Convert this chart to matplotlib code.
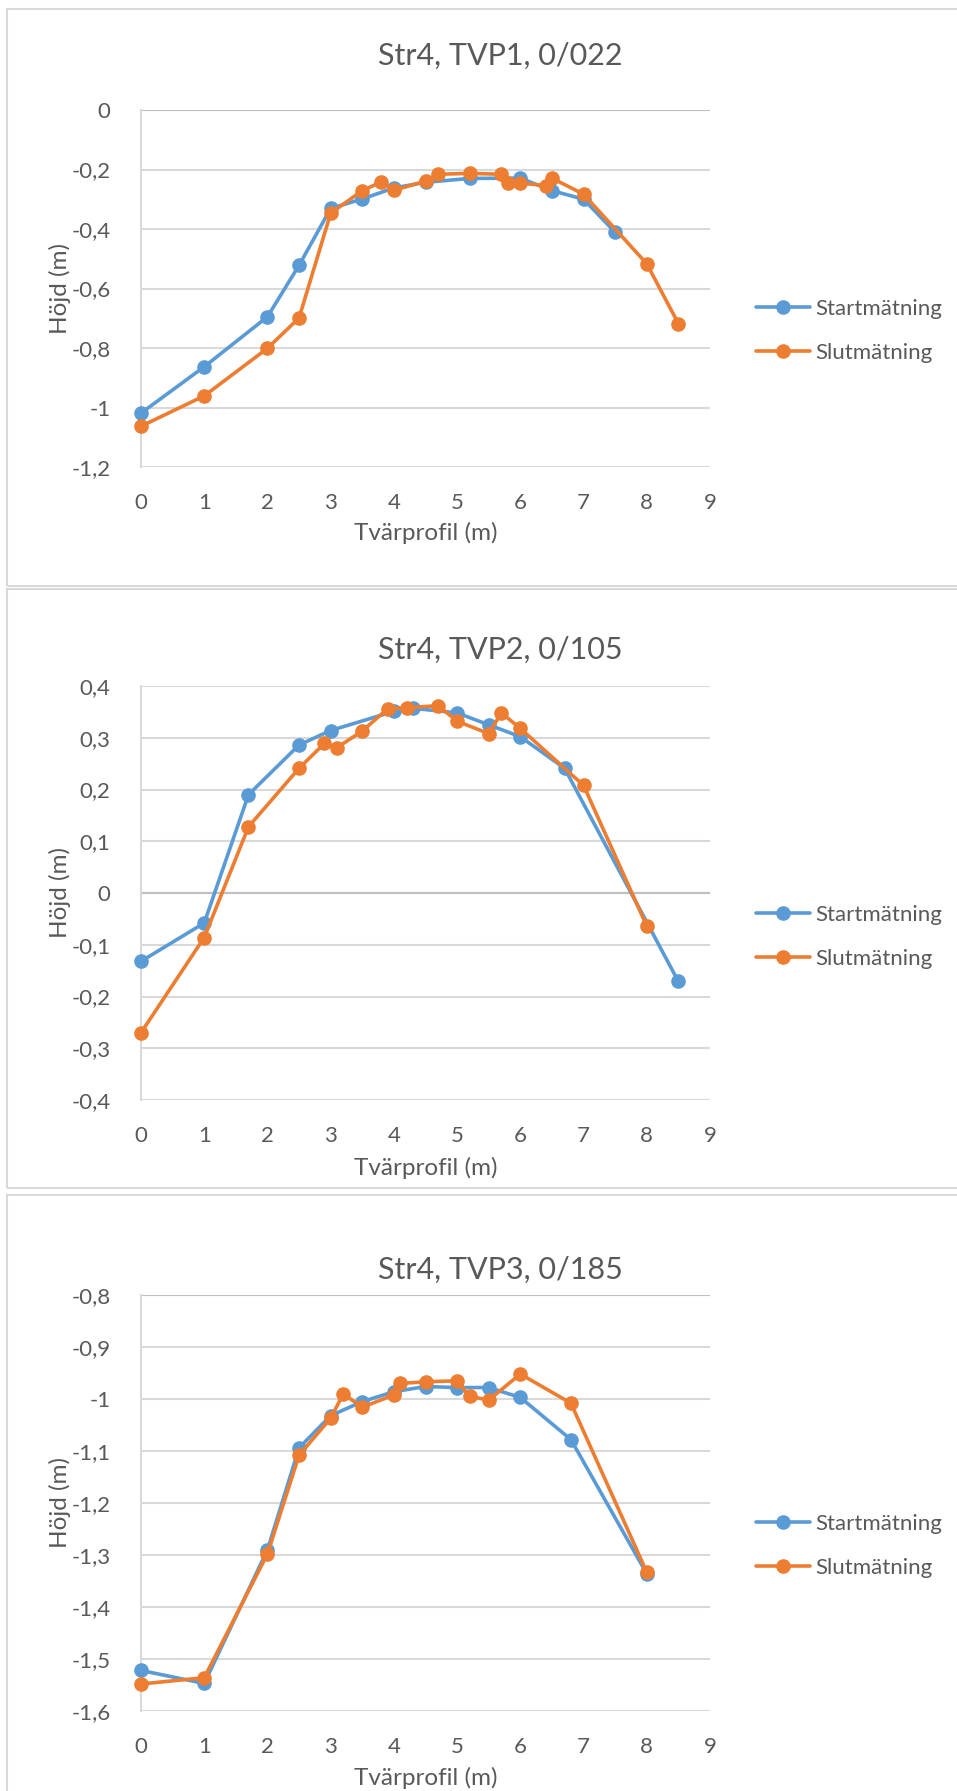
import matplotlib
matplotlib.use("Agg")
import matplotlib.pyplot as plt
from matplotlib.patches import Rectangle
from matplotlib.ticker import FuncFormatter, MultipleLocator
from matplotlib.transforms import blended_transform_factory

plt.rcParams['font.family'] = ['Lato', 'DejaVu Sans']

# ---- data -------------------------------------------------------------
series_names = ["Startmätning", "Slutmätning"]
titles = ["Str4, TVP1, 0/022", "Str4, TVP2, 0/105", "Str4, TVP3, 0/185"]

# TVP1
tvp1_start_x = [0, 1, 2, 2.5, 3, 3.5, 4, 4.5, 5.2, 6, 6.5, 7, 7.5]
tvp1_start_y = [-1.019, -0.863, -0.695, -0.522, -0.331, -0.299, -0.262, -0.243,
                -0.230, -0.229, -0.271, -0.300, -0.411]
tvp1_slut_x = [0, 1, 2, 2.5, 3, 3.5, 3.8, 4, 4.5, 4.7, 5.2, 5.7, 5.8, 6, 6.4,
               6.5, 7, 8, 8.5]
tvp1_slut_y = [-1.063, -0.961, -0.801, -0.699, -0.347, -0.271, -0.242, -0.270,
               -0.239, -0.216, -0.213, -0.216, -0.246, -0.246, -0.254, -0.229,
               -0.283, -0.517, -0.718]

# TVP2
tvp2_start_x = [0, 1, 1.7, 2.5, 3, 4, 4.3, 5, 5.5, 6, 6.7, 8.5]
tvp2_start_y = [-0.132, -0.058, 0.190, 0.286, 0.314, 0.351, 0.357, 0.348,
                0.325, 0.302, 0.241, -0.171]
tvp2_slut_x = [0, 1, 1.7, 2.5, 2.9, 3.1, 3.5, 3.9, 4.2, 4.7, 5, 5.5, 5.7, 6,
               7, 8]
tvp2_slut_y = [-0.270, -0.086, 0.128, 0.241, 0.289, 0.281, 0.313, 0.356, 0.358,
               0.362, 0.332, 0.308, 0.348, 0.318, 0.208, -0.064]

# TVP3
tvp3_start_x = [0, 1, 2, 2.5, 3, 3.5, 4, 4.5, 5, 5.5, 6, 6.8, 8]
tvp3_start_y = [-1.522, -1.547, -1.290, -1.094, -1.032, -1.005, -0.986, -0.976,
                -0.978, -0.978, -0.997, -1.078, -1.336]
tvp3_slut_x = [0, 1, 2, 2.5, 3, 3.2, 3.5, 4, 4.1, 4.5, 5, 5.2, 5.5, 6, 6.8, 8]
tvp3_slut_y = [-1.548, -1.536, -1.298, -1.108, -1.037, -0.990, -1.016, -0.992,
               -0.970, -0.967, -0.965, -0.995, -1.002, -0.952, -1.008, -1.333]

y_limits = [(-1.2, 0.0), (-0.4, 0.4), (-1.6, -0.8)]
y_steps = [0.2, 0.1, 0.1]

panels = [
    ((tvp1_start_x, tvp1_start_y), (tvp1_slut_x, tvp1_slut_y)),
    ((tvp2_start_x, tvp2_start_y), (tvp2_slut_x, tvp2_slut_y)),
    ((tvp3_start_x, tvp3_start_y), (tvp3_slut_x, tvp3_slut_y)),
]

# ---- styling ----------------------------------------------------------
W, H = 957, 1791
colors = ["#5B9BD5", "#ED7D31"]
text_color = "#595959"
grid_color = "#D9D9D9"
axis_color = "#BFBFBF"
tick_size = 16
axis_title_size = 17.5
title_size = 22

# pixel layout of each chart block
layout = [
    dict(frame=(9, 586), plot=(110, 467), title=56, xlab=533, legend=331),
    dict(frame=(589, 1188), plot=(686, 1100), title=650, xlab=1168, legend=937),
    dict(frame=(1195, 1800), plot=(1295, 1711), title=1270, xlab=1778, legend=1546),
]
plot_left, plot_right = 141, 710

fig = plt.figure(figsize=(W / 100, H / 100), dpi=100)
fig.patch.set_facecolor("white")


def fx(px):
    return px / W


def fy(py):
    return 1 - py / H


def excel_fmt(v, pos=None):
    v = round(v, 6)
    if abs(v) < 1e-9:
        return "0"
    return f"{v:g}".replace(".", ",")


for i, ((sx, sy), (ex, ey)) in enumerate(panels):
    L = layout[i]
    ftop, fbot = L["frame"]
    fig.patches.append(Rectangle((fx(7), fy(fbot)), fx(W + 20) - fx(7),
                                 fy(ftop) - fy(fbot), transform=fig.transFigure,
                                 fill=False, edgecolor=grid_color, linewidth=1.5,
                                 zorder=0))

    ptop, pbot = L["plot"]
    ax = fig.add_axes([fx(plot_left), fy(pbot), fx(plot_right) - fx(plot_left),
                       fy(ptop) - fy(pbot)])
    ax.set_xlim(0, 9)
    lo, hi = y_limits[i]
    ax.set_ylim(lo, hi)
    ax.xaxis.set_major_locator(MultipleLocator(1))
    ax.yaxis.set_major_locator(MultipleLocator(y_steps[i]))
    ax.yaxis.set_major_formatter(FuncFormatter(excel_fmt))
    ax.xaxis.set_major_formatter(FuncFormatter(excel_fmt))
    ax.tick_params(length=0, labelsize=tick_size, colors=text_color)
    ax.tick_params(axis="y", pad=22)
    ax.tick_params(axis="x", pad=19)
    for s in ["top", "right", "bottom"]:
        ax.spines[s].set_visible(False)
    ax.spines["left"].set_color(grid_color)
    ax.spines["left"].set_linewidth(1.5)
    ax.grid(axis="y", color=grid_color, linewidth=1.5)
    ax.set_axisbelow(True)
    cross = 0.0 if lo <= 0 <= hi else hi
    ax.axhline(cross, color=axis_color, linewidth=1.5, zorder=1)

    handles = []
    for (xs, ys), c, name in zip(((sx, sy), (ex, ey)), colors, series_names):
        h, = ax.plot(xs, ys, color=c, linewidth=2.6, marker="o", markersize=9.5,
                     markeredgecolor=c, markerfacecolor=c, label=name,
                     solid_joinstyle="round", solid_capstyle="round",
                     clip_on=False, zorder=3)
        handles.append(h)

    ax.set_ylabel("Höjd (m)", fontsize=axis_title_size, color=text_color)
    ax.yaxis.set_label_coords(fx(71), 0.5,
                              transform=blended_transform_factory(fig.transFigure,
                                                                  ax.transAxes))

    fig.text(fx((plot_left + plot_right) / 2), fy(L["xlab"]), "Tvärprofil (m)",
             ha="center", va="center", fontsize=axis_title_size, color=text_color)
    fig.text(fx(500), fy(L["title"]), titles[i], ha="center", va="center",
             fontsize=title_size, color=text_color)

    ax.legend(handles=handles, loc="center left",
              bbox_to_anchor=(fx(756), fy(L["legend"])),
              bbox_transform=fig.transFigure, frameon=False, fontsize=tick_size,
              labelcolor=text_color, handlelength=2.45, handletextpad=0.2,
              labelspacing=1.1, borderaxespad=0, borderpad=0)

fig.savefig("out.png", dpi=100, facecolor="white")
